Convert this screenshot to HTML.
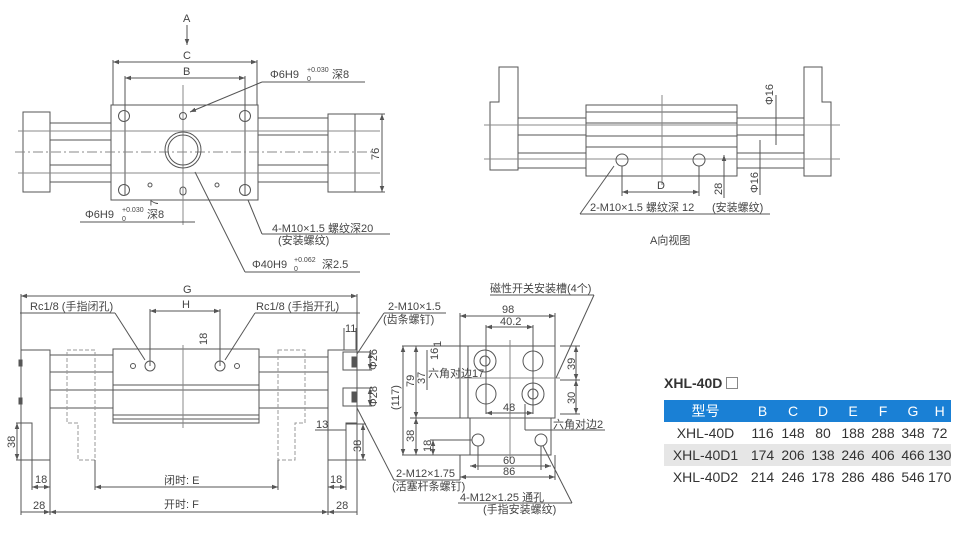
<!DOCTYPE html>
<html><head><meta charset="utf-8"><style>
body{margin:0;background:#fff;width:961px;height:551px;overflow:hidden;font-family:"Liberation Sans","Noto Sans CJK SC",sans-serif}
svg text{font-family:"Liberation Sans","Noto Sans CJK SC",sans-serif;fill:#444}
table{position:absolute;left:664px;top:400px;border-collapse:collapse;font-size:14px;color:#333}
td{height:22px;padding:0;text-align:center}
</style></head><body>
<svg width="961" height="551" style="position:absolute;left:0;top:0" fill="none" stroke="#555" stroke-width="1" font-size="11">
<defs><marker id="a" viewBox="0 0 8 6" refX="8" refY="3" markerWidth="6" markerHeight="5" orient="auto-start-reverse"><path d="M0,0L8,3L0,6z" fill="#555" stroke="none"/></marker></defs>
<!-- TOP LEFT VIEW -->
<g>
<line x1="187" y1="25" x2="187" y2="45" marker-end="url(#a)"/>
<text x="183" y="22" stroke="none">A</text><text x="183" y="59" stroke="none">C</text>
<line x1="113" y1="62" x2="257" y2="62" marker-start="url(#a)" marker-end="url(#a)"/>
<line x1="113" y1="60" x2="113" y2="105"/><line x1="257" y1="60" x2="257" y2="105"/>
<text x="183" y="75" stroke="none">B</text>
<line x1="125" y1="78" x2="245" y2="78" marker-start="url(#a)" marker-end="url(#a)"/>
<line x1="125" y1="76" x2="125" y2="195"/><line x1="245" y1="76" x2="245" y2="195"/>
<rect x="111" y="105" width="147" height="95"/>
<rect x="23" y="112" width="27" height="80"/><rect x="328" y="114" width="27" height="78"/>
<path d="M50,123H111M50,140H111M50,165H111M50,182H111M258,118H328M258,135H328M258,165H328M258,182H328"/>
<path d="M18,131H380M18,173H380" stroke="#888"/>
<line x1="15" y1="152" x2="375" y2="152" stroke-dasharray="10,3,2,3" stroke="#888"/>
<line x1="183" y1="85" x2="183" y2="225" stroke="#888"/>
<circle cx="183" cy="150" r="18"/><circle cx="183" cy="150" r="15"/>
<circle cx="124" cy="116" r="5.5"/><circle cx="245" cy="116" r="5.5"/><circle cx="124" cy="190" r="5.5"/><circle cx="245" cy="190" r="5.5"/>
<circle cx="183" cy="116" r="3.5"/><rect x="180" y="187" width="6" height="8" rx="3"/>
<circle cx="150" cy="185" r="2"/><circle cx="217" cy="185" r="2"/>
<line x1="355" y1="114" x2="385" y2="114"/><line x1="355" y1="192" x2="385" y2="192"/>
<line x1="382" y1="114" x2="382" y2="192" marker-start="url(#a)" marker-end="url(#a)"/>
<text x="379" y="160" stroke="none" transform="rotate(-90 379 160)">76</text>
<text x="270" y="78" stroke="none">Φ6H9</text><text x="307" y="72" stroke="none" font-size="7">+0.030</text><text x="307" y="81" stroke="none" font-size="7">0</text><text x="332" y="78" stroke="none">深8</text>
<line x1="190" y1="112" x2="262" y2="82" marker-start="url(#a)"/><line x1="262" y1="82" x2="365" y2="82"/>
<text x="85" y="218" stroke="none">Φ6H9</text><text x="122" y="212" stroke="none" font-size="7">+0.030</text><text x="122" y="221" stroke="none" font-size="7">0</text><text x="147" y="218" stroke="none">深8</text>
<line x1="80" y1="222" x2="195" y2="222"/>
<text x="158" y="206" stroke="none" transform="rotate(-90 158 206)">7</text>
<text x="272" y="232" stroke="none">4-M10×1.5 螺纹深20</text><text x="278" y="244" stroke="none">(安装螺纹)</text>
<line x1="248" y1="200" x2="262" y2="234"/><line x1="262" y1="234" x2="390" y2="234"/>
<text x="252" y="268" stroke="none">Φ40H9</text><text x="294" y="262" stroke="none" font-size="7">+0.062</text><text x="294" y="271" stroke="none" font-size="7">0</text><text x="322" y="268" stroke="none">深2.5</text>
<line x1="195" y1="172" x2="245" y2="272"/><line x1="245" y1="272" x2="360" y2="272"/>
</g>
<!-- TOP RIGHT VIEW -->
<g>
<path d="M499,67H518V170H490V102H499Z"/><path d="M804,67H822V102H831V176H804Z"/>
<rect x="586" y="105" width="151" height="71"/>
<path d="M586,112H737M586,123H737M586,136H737M586,147H737"/>
<path d="M518,118H586M518,135H586M518,153H586M518,168H586M737,118H804M737,135H804M737,153H804M737,168H804"/>
<path d="M484,125H840M484,159H840" stroke="#888"/>
<line x1="662" y1="95" x2="662" y2="185" stroke="#888"/>
<circle cx="622" cy="160" r="6"/><circle cx="699" cy="160" r="6"/>
<line x1="622" y1="166" x2="622" y2="196"/><line x1="699" y1="166" x2="699" y2="196"/>
<line x1="622" y1="192" x2="699" y2="192" marker-start="url(#a)" marker-end="url(#a)"/>
<text x="657" y="189" stroke="none">D</text>
<line x1="724" y1="155" x2="724" y2="198" marker-start="url(#a)"/>
<text x="722" y="195" stroke="none" transform="rotate(-90 722 195)">28</text>
<text x="773" y="105" stroke="none" transform="rotate(-90 773 105)">Φ16</text>
<line x1="776" y1="95" x2="776" y2="145"/>
<text x="758" y="193" stroke="none" transform="rotate(-90 758 193)">Φ16</text>
<line x1="760" y1="140" x2="760" y2="195"/>
<line x1="580" y1="214" x2="614" y2="166"/><line x1="580" y1="214" x2="770" y2="214"/>
<text x="590" y="211" stroke="none">2-M10×1.5 螺纹深 12</text><text x="712" y="211" stroke="none">(安装螺纹)</text>
<text x="650" y="244" stroke="none">A向视图</text>
</g>
<!-- BOTTOM LEFT VIEW -->
<g>
<line x1="21" y1="296" x2="357" y2="296" marker-start="url(#a)" marker-end="url(#a)"/>
<text x="183" y="293" stroke="none">G</text>
<line x1="21" y1="294" x2="21" y2="515"/><line x1="357" y1="294" x2="357" y2="515"/>
<text x="30" y="310" stroke="none">Rc1/8 (手指闭孔)</text><line x1="20" y1="313" x2="115" y2="313"/><line x1="115" y1="313" x2="145" y2="360"/>
<text x="256" y="310" stroke="none">Rc1/8 (手指开孔)</text><line x1="255" y1="313" x2="360" y2="313"/><line x1="255" y1="313" x2="225" y2="360"/>
<line x1="150" y1="311" x2="220" y2="311" marker-start="url(#a)" marker-end="url(#a)"/><text x="182" y="308" stroke="none">H</text>
<line x1="150" y1="309" x2="150" y2="366"/><line x1="220" y1="309" x2="220" y2="366"/>
<text x="207" y="345" stroke="none" transform="rotate(-90 207 345)">18</text>
<rect x="113" y="349" width="146" height="74"/>
<path d="M113,385H259M113,390H259M113,415H259M113,419H259"/>
<line x1="183" y1="345" x2="183" y2="428" stroke="#888"/>
<circle cx="150" cy="366" r="5"/><circle cx="220" cy="366" r="5"/><circle cx="133" cy="366" r="2.5"/><circle cx="237" cy="366" r="2.5"/>
<path d="M21,350H50V460H32V423H21Z"/><path d="M328,350H357V423H346V460H328Z"/>
<path d="M50,355H113M50,372H113M50,390H113M50,408H113M259,357H328M259,372H328M259,390H328M259,408H328"/>
<path d="M67,350H95V460H78V423H67Z" stroke-dasharray="4,2" stroke="#999"/>
<path d="M278,350H305V423H295V460H278Z" stroke-dasharray="4,2" stroke="#999"/>
<rect x="19" y="360" width="3" height="6" fill="#555"/><rect x="19" y="398" width="3" height="6" fill="#555"/>
<rect x="343" y="352" width="14" height="18"/><rect x="343" y="388" width="14" height="18"/>
<rect x="352" y="357" width="4" height="10" fill="#555"/><rect x="352" y="392" width="4" height="10" fill="#555"/>
<line x1="16" y1="423" x2="32" y2="423"/><line x1="16" y1="460" x2="32" y2="460"/>
<line x1="17" y1="423" x2="17" y2="460" marker-start="url(#a)" marker-end="url(#a)"/>
<text x="15" y="448" stroke="none" transform="rotate(-90 15 448)">38</text>
<line x1="32" y1="487" x2="50" y2="487" marker-start="url(#a)" marker-end="url(#a)"/><text x="35" y="483" stroke="none">18</text>
<line x1="32" y1="460" x2="32" y2="490"/><line x1="50" y1="460" x2="50" y2="515"/>
<line x1="328" y1="487" x2="346" y2="487" marker-start="url(#a)" marker-end="url(#a)"/><text x="330" y="483" stroke="none">18</text>
<line x1="346" y1="460" x2="346" y2="490"/><line x1="328" y1="460" x2="328" y2="515"/>
<line x1="95" y1="487" x2="278" y2="487" marker-start="url(#a)" marker-end="url(#a)"/><text x="164" y="484" stroke="none">闭时: E</text>
<line x1="95" y1="460" x2="95" y2="490"/><line x1="278" y1="460" x2="278" y2="490"/>
<line x1="21" y1="512" x2="50" y2="512" marker-end="url(#a)"/><text x="33" y="509" stroke="none">28</text>
<line x1="50" y1="512" x2="328" y2="512" marker-start="url(#a)" marker-end="url(#a)"/><text x="164" y="508" stroke="none">开时: F</text>
<line x1="328" y1="512" x2="357" y2="512" marker-start="url(#a)"/><text x="336" y="509" stroke="none">28</text>
<line x1="344" y1="328" x2="344" y2="350"/><line x1="356" y1="328" x2="356" y2="350"/><text x="345" y="332" stroke="none">11</text>
<line x1="357" y1="352" x2="372" y2="352"/><line x1="357" y1="370" x2="372" y2="370"/><line x1="370" y1="352" x2="370" y2="370" marker-start="url(#a)" marker-end="url(#a)"/>
<text x="377" y="370" stroke="none" transform="rotate(-90 377 370)">Φ26</text>
<line x1="357" y1="388" x2="372" y2="388"/><line x1="357" y1="406" x2="372" y2="406"/><line x1="370" y1="388" x2="370" y2="406" marker-start="url(#a)" marker-end="url(#a)"/>
<text x="377" y="407" stroke="none" transform="rotate(-90 377 407)">Φ28</text>
<text x="316" y="428" stroke="none">13</text><line x1="315" y1="430" x2="346" y2="430"/>
<line x1="346" y1="424" x2="366" y2="424"/><line x1="346" y1="460" x2="366" y2="460"/><line x1="363" y1="424" x2="363" y2="460" marker-start="url(#a)" marker-end="url(#a)"/>
<text x="361" y="452" stroke="none" transform="rotate(-90 361 452)">38</text>
<text x="388" y="310" stroke="none">2-M10×1.5</text><text x="383" y="323" stroke="none">(齿条螺钉)</text>
<line x1="384" y1="313" x2="446" y2="313"/><line x1="384" y1="313" x2="357" y2="354"/>
<text x="396" y="477" stroke="none">2-M12×1.75</text><text x="392" y="490" stroke="none">(活塞杆条螺钉)</text>
<line x1="394" y1="480" x2="460" y2="480"/><line x1="394" y1="480" x2="357" y2="408"/>
</g>
<!-- BOTTOM MIDDLE VIEW -->
<g>
<text x="490" y="292" stroke="none">磁性开关安装槽(4个)</text><line x1="490" y1="295" x2="594" y2="295"/><line x1="594" y1="295" x2="556" y2="378"/>
<path d="M460,346H555V418H460Z"/><path d="M468,346V418"/>
<path d="M460,418H555"/>
<path d="M470,418H551V455H470Z"/>
<circle cx="485" cy="361" r="11"/><circle cx="485" cy="361" r="5"/><circle cx="533" cy="361" r="10"/>
<circle cx="486" cy="394" r="10"/><circle cx="533" cy="394" r="11"/><circle cx="533" cy="394" r="5"/>
<circle cx="478" cy="440" r="6"/><circle cx="541" cy="440" r="6"/>
<line x1="510" y1="340" x2="510" y2="460" stroke="#888"/><line x1="455" y1="378" x2="560" y2="378" stroke="#888"/>
<line x1="460" y1="316" x2="555" y2="316" marker-start="url(#a)" marker-end="url(#a)"/><text x="502" y="313" stroke="none">98</text>
<line x1="460" y1="313" x2="460" y2="346"/><line x1="555" y1="313" x2="555" y2="346"/>
<line x1="486" y1="327" x2="533" y2="327" marker-start="url(#a)" marker-end="url(#a)"/><text x="500" y="325" stroke="none">40.2</text>
<line x1="486" y1="325" x2="486" y2="414"/><line x1="533" y1="325" x2="533" y2="414"/>
<line x1="486" y1="413" x2="533" y2="413" marker-start="url(#a)" marker-end="url(#a)"/><text x="503" y="411" stroke="none">48</text>
<line x1="402" y1="346" x2="460" y2="346"/><line x1="402" y1="455" x2="470" y2="455"/>
<line x1="403" y1="346" x2="403" y2="455" marker-start="url(#a)" marker-end="url(#a)"/>
<text x="399" y="410" stroke="none" transform="rotate(-90 399 410)">(117)</text>
<line x1="416" y1="346" x2="416" y2="418" marker-start="url(#a)" marker-end="url(#a)"/><text x="414" y="387" stroke="none" transform="rotate(-90 414 387)">79</text>
<line x1="410" y1="418" x2="470" y2="418"/>
<line x1="416" y1="418" x2="416" y2="455" marker-start="url(#a)" marker-end="url(#a)"/><text x="414" y="442" stroke="none" transform="rotate(-90 414 442)">38</text>
<line x1="430" y1="440" x2="472" y2="440"/><line x1="433" y1="440" x2="433" y2="455" marker-start="url(#a)" marker-end="url(#a)"/><text x="431" y="452" stroke="none" transform="rotate(-90 431 452)">18</text>
<line x1="427" y1="350" x2="427" y2="390"/><text x="425" y="384" stroke="none" transform="rotate(-90 425 384)">37</text>
<text x="438" y="360" stroke="none" transform="rotate(-90 438 360)">16</text><text x="441" y="347" stroke="none" transform="rotate(-90 441 347)">1</text>
<text x="428" y="377" stroke="none">六角对边17</text>
<line x1="560" y1="346" x2="580" y2="346"/><line x1="560" y1="380" x2="580" y2="380"/><line x1="560" y1="414" x2="580" y2="414"/>
<line x1="576" y1="346" x2="576" y2="380" marker-start="url(#a)" marker-end="url(#a)"/><text x="575" y="370" stroke="none" transform="rotate(-90 575 370)">39</text>
<line x1="576" y1="380" x2="576" y2="414" marker-start="url(#a)" marker-end="url(#a)"/><text x="575" y="404" stroke="none" transform="rotate(-90 575 404)">30</text>
<text x="553" y="428" stroke="none">六角对边2</text><line x1="525" y1="430" x2="605" y2="430"/><line x1="525" y1="404" x2="525" y2="430"/>
<line x1="470" y1="466" x2="551" y2="466" marker-start="url(#a)" marker-end="url(#a)"/><text x="503" y="464" stroke="none">60</text>
<line x1="460" y1="477" x2="555" y2="477" marker-start="url(#a)" marker-end="url(#a)"/><text x="503" y="475" stroke="none">86</text>
<line x1="460" y1="455" x2="460" y2="480"/><line x1="555" y1="455" x2="555" y2="480"/>
<line x1="478" y1="446" x2="478" y2="470"/><line x1="541" y1="446" x2="541" y2="470"/>
<text x="460" y="501" stroke="none">4-M12×1.25 通孔</text><text x="483" y="513" stroke="none">(手指安装螺纹)</text>
<line x1="458" y1="503" x2="572" y2="503"/><line x1="572" y1="503" x2="543" y2="446"/>
</g>
</svg>
<div style="position:absolute;left:664px;top:375px;font-weight:bold;font-size:14px;color:#333">XHL-40D <span style="display:inline-block;width:10px;height:10px;border:1px solid #888;vertical-align:-1px"></span></div>
<table>
<tr style="background:#1a80d5;color:#fff"><td style="width:83px">型号</td><td style="width:31px">B</td><td style="width:30px">C</td><td style="width:30px">D</td><td style="width:30px">E</td><td style="width:30px">F</td><td style="width:30px">G</td><td style="width:22px">H</td></tr>
<tr><td>XHL-40D</td><td>116</td><td>148</td><td>80</td><td>188</td><td>288</td><td>348</td><td>72</td></tr>
<tr style="background:#e6e6e6"><td>XHL-40D1</td><td>174</td><td>206</td><td>138</td><td>246</td><td>406</td><td>466</td><td>130</td></tr>
<tr><td>XHL-40D2</td><td>214</td><td>246</td><td>178</td><td>286</td><td>486</td><td>546</td><td>170</td></tr>
</table>
</body></html>
